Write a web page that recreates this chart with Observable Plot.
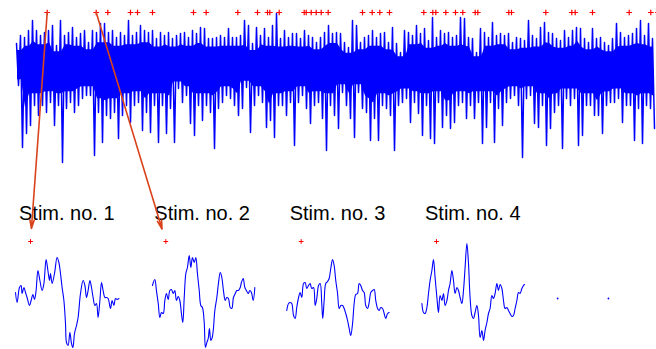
<!DOCTYPE html>
<html><head><meta charset="utf-8">
<script src="https://cdn.jsdelivr.net/npm/d3@7"></script>
<script src="https://cdn.jsdelivr.net/npm/@observablehq/plot@0.6"></script>
<style>html,body{margin:0;padding:0;background:#fff;overflow:hidden}#chart{width:656px;height:349px}</style>
</head><body><div id="chart"></div>
<script>
// ---- Continuous recording: per 0.4 s bin, highest and lowest excursion (µV) ----
const binSeconds = 0.4;
const signalPeaks = [
23,31,29,36,46,36,31,34,36,41,21,46,31,34,39,29,33,36,24,36,34,43,43,34,36,29,34,31,46,31,34,41,36,34,36,28,34,31,34,28,
31,33,34,29,36,33,39,38,28,28,29,31,29,38,29,29,31,46,41,23,39,31,38,29,41,53,28,36,29,33,33,28,36,31,29,24,29,34,41,33,34,
33,24,19,46,41,24,29,31,36,29,33,34,24,39,23,14,36,34,31,41,33,38,26,49,29,36,33,34,29,31,49,48,29,28,14,38,34,29,44,31,33,
31,33,24,29,28,26,46,31,28,39,44,34,33,28,26,36,29,36,39,38,28,24,38,28,29,24,21,28,43,34,29,31,33,38,46,31,43,28];
const signalTroughs = [
-19,-81,-67,-59,-39,-49,-39,-46,-36,-59,-39,-96,-42,-36,-46,-39,-32,-29,-29,-89,-46,-76,-49,-52,-46,-72,-49,-39,-56,-39,-36,-64,-46,-66,-39,-76,-39,-67,-42,-76,
-22,-36,-29,-57,-69,-39,-54,-39,-46,-82,-42,-36,-29,-32,-39,-49,-42,-21,-66,-39,-29,-36,-61,-54,-71,-39,-39,-49,-36,-79,-36,-29,-42,-57,-39,-36,-52,-84,-39,-49,-62,
-26,-39,-52,-71,-26,-42,-46,-74,-52,-74,-39,-42,-49,-84,-39,-36,-32,-56,-36,-47,-69,-39,-72,-77,-36,-61,-49,-62,-56,-39,-36,-52,-39,-52,-36,-77,-61,-36,-76,-42,-59,
-36,-32,-29,-39,-91,-32,-29,-57,-61,-39,-79,-62,-46,-39,-82,-32,-39,-32,-79,-69,-39,-39,-49,-49,-67,-39,-36,-36,-32,-56,-39,-39,-74,-42,-77,-39,-42,-62];

// ---- Stimulus onsets (s) ----
const stimTimes = [3.17,8.07,9.23,11.5,12.2,13.7,17.8,19.07,22.23,24.2,25.2,25.43,26.37,28.87,29.07,29.57,30.07,30.57,31.27,
34.7,35.67,36.43,37.4,40.83,41.73,42.03,43.03,44.0,44.73,45.97,46.23,49.33,49.6,53.03,55.63,55.97,57.7,61.37,63.53,64.25];

// ---- Stimulus-locked snippets: [time from onset (ms), amplitude (µV)] ----
const snippet1 = [[-75,8],[-67,-2],[-55,13],[-47,15],[-42,7],[-33,13],[-25,8],[-17,3],[-5,-5],[3,0],[12,6],[20,1],[28,10],[37,30],[47,20],[58,10],[67,17],[78,41],[87,30],[95,20],[100,27],[108,17],[120,27],[133,43],[142,38],[150,27],[158,13],[167,0],[175,-23],[180,-42],[188,-45],[197,-32],[205,-43],[212,-47],[220,-33],[230,-25],[238,-17],[250,7],[263,20],[272,15],[280,3],[288,10],[297,20],[305,13],[313,3],[322,-5],[330,-3],[338,-17],[347,0],[355,18],[363,10],[372,3],[380,3],[388,2],[400,-8],[408,0],[417,-5],[425,2],[433,1],[442,2]];
const snippet2 = [[-67,15],[-55,21],[-47,10],[-38,-3],[-30,-17],[-22,-12],[-13,-13],[-5,0],[3,7],[12,1],[20,10],[28,11],[37,7],[45,10],[53,0],[62,4],[70,0],[78,-13],[85,-22],[92,3],[100,27],[108,33],[117,45],[125,33],[133,43],[142,38],[150,43],[158,27],[167,10],[175,-5],[183,-7],[192,-22],[198,-47],[205,-42],[212,-38],[218,-28],[225,-40],[232,-37],[238,-28],[245,-10],[255,3],[263,17],[272,28],[280,23],[288,10],[297,0],[305,3],[313,2],[322,-7],[330,-8],[338,3],[347,7],[355,10],[363,10],[372,13],[378,18],[387,22],[395,13],[403,10],[412,7],[420,10],[428,8],[437,0],[445,13]];
const snippet3 = [[-72,-10],[-63,-3],[-55,-2],[-47,-3],[-38,-15],[-30,-18],[-22,-7],[-13,3],[-5,8],[3,3],[12,17],[20,18],[28,12],[37,15],[45,17],[53,12],[62,13],[70,-5],[78,2],[87,15],[95,17],[103,-3],[108,-18],[115,0],[123,17],[132,19],[140,22],[148,32],[157,41],[165,35],[173,20],[182,7],[190,-8],[198,-5],[207,-5],[215,-8],[223,-13],[232,-20],[240,-28],[248,-35],[257,-23],[265,-3],[273,6],[282,7],[290,17],[298,15],[307,10],[315,8],[323,-5],[332,-8],[340,-2],[348,8],[357,10],[365,11],[373,0],[382,-8],[390,-10],[398,-7],[407,-8],[415,-13],[423,-18],[432,-13],[440,-12]];
const snippet4 = [[-73,-3],[-65,-12],[-57,-13],[-48,-7],[-40,7],[-32,20],[-23,30],[-15,41],[-7,23],[2,3],[10,-12],[18,5],[27,0],[35,7],[43,-5],[52,0],[60,10],[68,17],[77,30],[85,20],[93,7],[102,13],[110,10],[118,3],[127,-3],[135,10],[143,33],[152,57],[160,37],[168,3],[177,-15],[185,-18],[193,-12],[202,-5],[210,-15],[218,-37],[227,-30],[235,-40],[243,-30],[252,-22],[260,-13],[268,-8],[277,5],[285,2],[293,7],[302,17],[310,10],[318,16],[327,12],[335,0],[343,-8],[352,-7],[360,-10],[368,-13],[377,-16],[385,-15],[393,-8],[402,0],[410,8],[418,7],[427,12],[435,15],[440,16]];
const snippet5 = [[-71,2],[183,2]];
const stimLabels = ["Stim. no. 1","Stim. no. 2","Stim. no. 3","Stim. no. 4"];

// ---- layout (not data) ----
const MARK_LEVEL = 54;        // µV level of the onset markers above the trace
const SNIP_ORIGIN = 1.5;      // axis position (s) of snippet 1 onset
const SNIP_STEP = 13.533;     // axis spacing (s) between snippet panels
const SNIP_MS_PER_AXIS_S = 50;
const SNIP_OFFSET = -234;     // vertical offset (µV) of the snippet row
const SNIP_MARK = 59;         // snippet-local marker level (µV)
const CORE_HALF_WINDOW = 1;   // bins on each side used for the dense core
const CORE_FRACTION = 0.7;    // share of the local envelope drawn fully dense

// zig-zag trace through each bin's extremes
const signal = [];
signalPeaks.forEach((p, i) => {
  signal.push({t: i * binSeconds + 0.1, v: p});
  signal.push({t: i * binSeconds + 0.3, v: signalTroughs[i]});
});
// dense core of the trace
const n = signalPeaks.length;
const core = signalPeaks.map((p, i) => {
  const a = Math.max(0, i - CORE_HALF_WINDOW), b = Math.min(n - 1, i + CORE_HALF_WINDOW);
  return {
    t: i * binSeconds + 0.2,
    hi: CORE_FRACTION * Math.min(...signalPeaks.slice(a, b + 1)),
    lo: CORE_FRACTION * Math.max(...signalTroughs.slice(a, b + 1))
  };
});
const snippets = [snippet1, snippet2, snippet3, snippet4];
const snipX = (k, ms) => SNIP_ORIGIN + k * SNIP_STEP + ms / SNIP_MS_PER_AXIS_S;
const snipRows = snippets.flatMap((s, k) => s.map(([ms, v]) => ({k, x: snipX(k, ms), y: v + SNIP_OFFSET})));
const snip5Rows = snippet5.map(([ms, v]) => ({x: snipX(4, ms), y: v + SNIP_OFFSET}));
const font = "Liberation Sans, Arial, Helvetica, sans-serif";
const blue = "#0000ff";

const chart = Plot.plot({
  width: 656, height: 349,
  marginLeft: 15, marginRight: 0, marginTop: 0, marginBottom: 0,
  x: {domain: [0, 64.1], axis: null},
  y: {domain: [-283, 66], axis: null},
  style: {background: "white", overflow: "hidden"},
  marks: [
    Plot.areaY(core, {x: "t", y1: "lo", y2: "hi", fill: blue}),
    Plot.line(signal, {x: "t", y: "v", stroke: blue, strokeWidth: 1.5}),
    Plot.dot(stimTimes, {x: d => d, y: () => MARK_LEVEL, symbol: "plus", r: 2.0, stroke: "#ff0000", strokeWidth: 1.2, fill: "none"}),
    Plot.line(snipRows, {x: "x", y: "y", z: "k", stroke: blue, strokeWidth: 1.1, curve: "catmull-rom"}),
    Plot.dot(snip5Rows, {x: "x", y: "y", r: 0.9, fill: blue, stroke: "none"}),
    Plot.dot(stimLabels, {x: (d, k) => snipX(k, 0), y: () => SNIP_MARK + SNIP_OFFSET, symbol: "plus", r: 1.65, stroke: "#ff0000", strokeWidth: 1, fill: "none"}),
    Plot.text(stimLabels, {x: (d, k) => snipX(k, 0), y: () => SNIP_MARK + SNIP_OFFSET, text: d => d, dx: -11.5, dy: -22,
      textAnchor: "start", lineAnchor: "bottom", fontSize: 20, fontFamily: font, fill: "#000"}),
    Plot.arrow([0, 1], {x1: k => stimTimes[k], y1: () => MARK_LEVEL, x2: k => snipX(k, 0), y2: () => SNIP_MARK + SNIP_OFFSET,
      stroke: "#d9431b", strokeWidth: 1.6, headLength: 8.4, headAngle: 28, insetEnd: 13})
  ]
});
document.getElementById("chart").appendChild(chart);
</script></body></html>
